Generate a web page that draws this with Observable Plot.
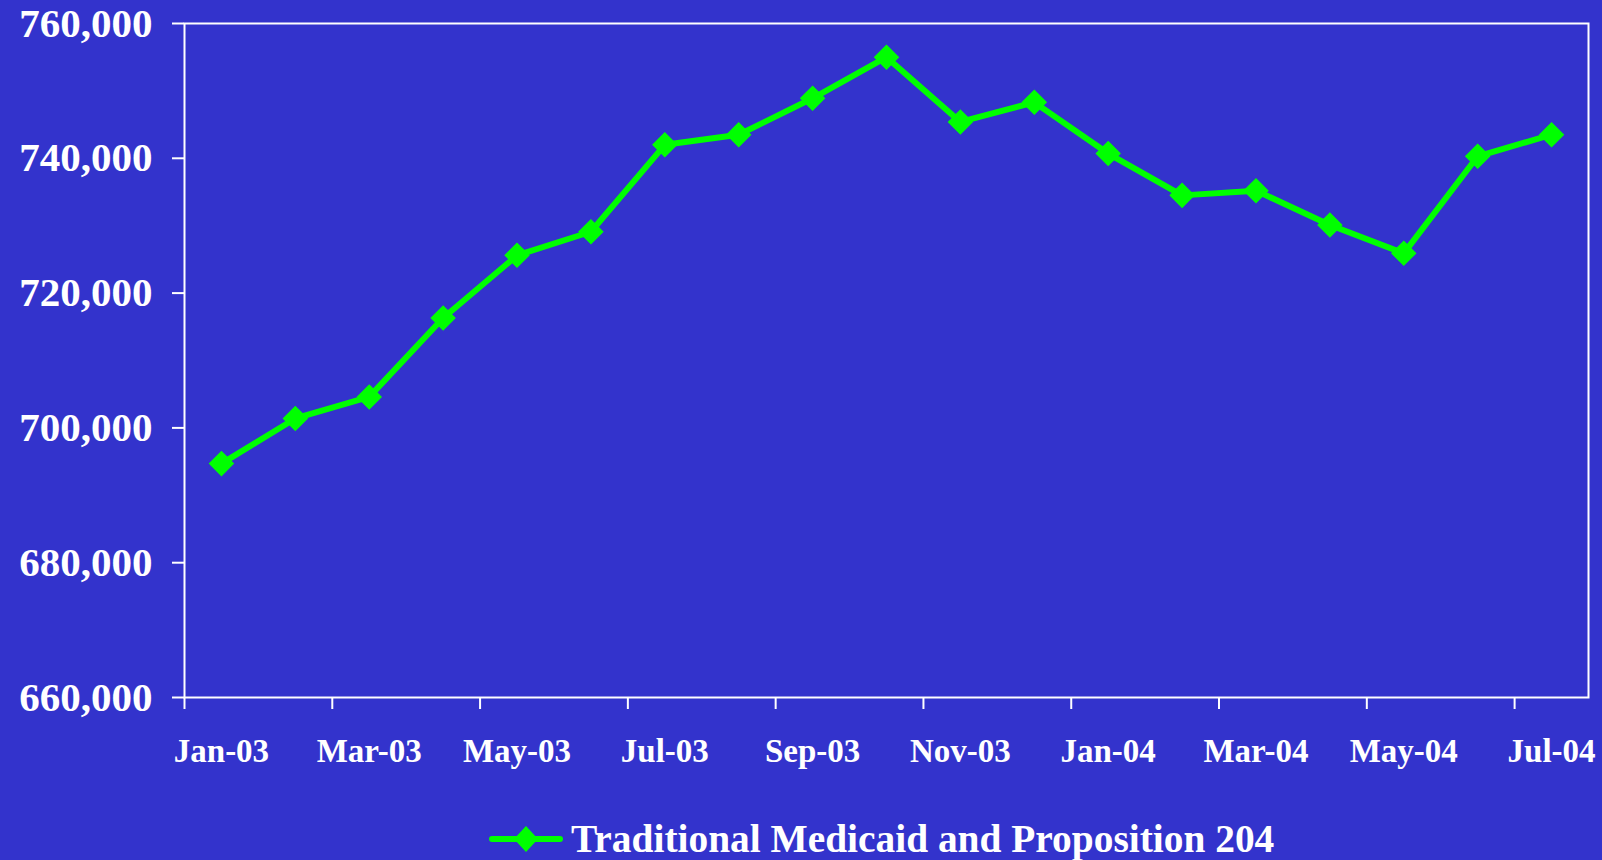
<!DOCTYPE html>
<html><head><meta charset="utf-8">
<script src="https://cdn.jsdelivr.net/npm/d3@7"></script>
<script src="https://cdn.jsdelivr.net/npm/@observablehq/plot@0.6"></script>
<style>
html,body{margin:0;padding:0;background:#3333cc;}
body{width:1602px;height:860px;position:relative;overflow:hidden;font-family:"Liberation Serif","Times New Roman",serif;font-weight:bold;color:#fff;}
#legend{position:absolute;left:489px;top:815px;display:flex;align-items:center;height:48px;}
#legend span{font-size:39.4px;line-height:48px;margin-left:8px;white-space:nowrap;}
</style></head><body>
<div id="chart"></div>
<div id="legend"></div>
<script>
const months = ["Jan-03","Feb-03","Mar-03","Apr-03","May-03","Jun-03","Jul-03","Aug-03","Sep-03","Oct-03","Nov-03","Dec-03","Jan-04","Feb-04","Mar-04","Apr-04","May-04","Jun-04","Jul-04"];
const enrollment = [694700, 701400, 704600, 716300, 725600, 729100, 742000, 743500, 748900, 755000, 745400, 748300, 740700, 734500, 735200, 730100, 725900, 740300, 743500];
const seriesName = "Traditional Medicaid and Proposition 204";
const yTicks = [660000, 680000, 700000, 720000, 740000, 760000];
const xLabels = months.filter((d, i) => i % 2 === 0);

const data = months.map((m, i) => ({month: m, value: enrollment[i]}));
const W = 1602, H = 780, mL = 184, mR = 14, mT = 23, mB = 83;
const step = (W - mL - mR) / months.length;
const font = '"Liberation Serif","Times New Roman",serif';

const plot = Plot.plot({
  width: W, height: H,
  marginLeft: mL, marginRight: mR, marginTop: mT, marginBottom: mB,
  style: {background: "#3333cc", color: "#ffffff", fontFamily: font, fontWeight: "bold", overflow: "visible"},
  x: {type: "point", domain: months, padding: 0.5, round: false, label: null},
  y: {domain: [660000, 760000], label: null},
  marks: [
    Plot.frame({stroke: "#ffffff", strokeWidth: 2}),
    Plot.axisY({ticks: yTicks, tickSize: 12, tickPadding: 20, tickFormat: d3.format(","), fontSize: 41, strokeWidth: 2, label: null}),
    Plot.axisX({ticks: xLabels, tickSize: 12, tickFormat: () => "", dx: -step / 2, strokeWidth: 2, label: null}),
    Plot.axisX({ticks: xLabels, tickSize: 0, tickPadding: 41, fontSize: 33, label: null}),
    Plot.line(data, {x: "month", y: "value", stroke: "#00ff00", strokeWidth: 6}),
    Plot.dot(data, {x: "month", y: "value", symbol: "diamond2", r: 11.5, fill: "#00ff00", stroke: "none"})
  ]
});
document.getElementById("chart").appendChild(plot);

const leg = document.getElementById("legend");
leg.innerHTML = '<svg width="74" height="48"><line x1="3" y1="24" x2="71" y2="24" stroke="#00ff00" stroke-width="6" stroke-linecap="round"/><path d="M37,11L49,24L37,37L25,24Z" fill="#00ff00"/></svg><span></span>';
leg.querySelector("span").textContent = seriesName;
</script>
</body></html>
